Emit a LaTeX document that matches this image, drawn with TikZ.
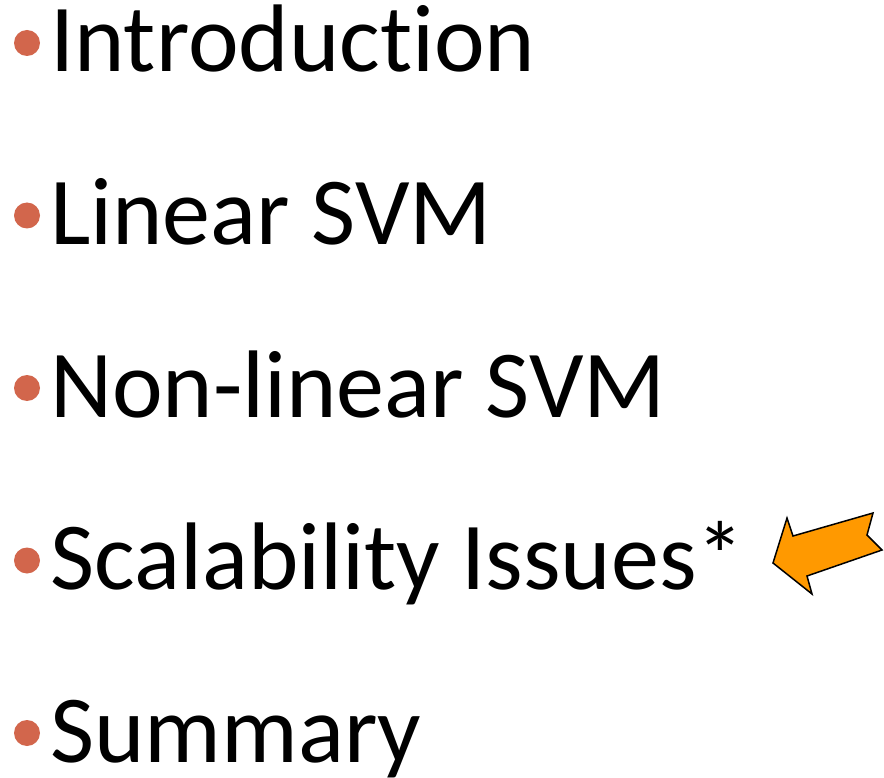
\documentclass[tikz,border=0pt]{standalone}
\usepackage{fontspec}
\setmainfont{Carlito}[Ligatures=NoCommon]
\definecolor{bulletred}{HTML}{D2664C}
\definecolor{arroworange}{HTML}{FF9900}
\tikzset{
  item/.style={anchor=base west, inner sep=0pt, font=\fontsize{96}{110}\selectfont},
  dot/.style={circle, fill=bulletred, minimum size=26pt, inner sep=0pt},
}
\begin{document}
\begin{tikzpicture}[x=1pt,y=-1pt]
\useasboundingbox (0,0) rectangle (884,778);
% bulleted list
\foreach \name/\txt [count=\i from 0] in {intro/Introduction, lin/Linear SVM, nonlin/Non-linear SVM, scal/Scalability Issues*, summ/Summary}{
  \node[dot] (b-\name) at (27,43+172.5*\i) {};
  \node[item] (t-\name) at (50,72+172.5*\i) {\txt};
}
% pointer arrow next to the current item
\draw[fill=arroworange, line width=1.5pt, line join=miter]
  (773,563) -- (787,518) -- (793,536) -- (873,513) -- (867,535)
  -- (882,550) -- (807,576) -- (812,594) -- cycle;
\end{tikzpicture}
\end{document}
